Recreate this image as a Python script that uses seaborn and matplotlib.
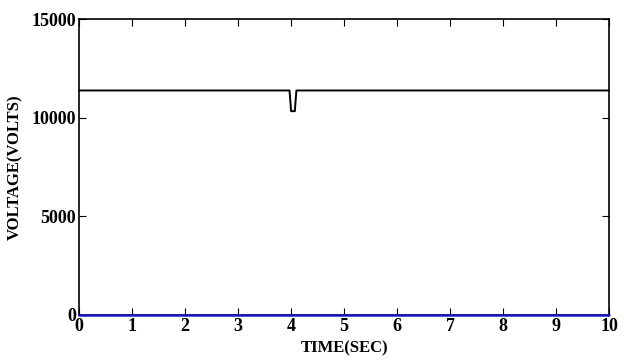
import numpy as np
import seaborn as sns
import matplotlib.pyplot as plt

# --- data ---
time_sec = [0.0, 3.97, 4.00, 4.07, 4.10, 10.0]
voltage = [11380, 11380, 10330, 10330, 11380, 11380]
time_zero = [0.0, 10.0]
voltage_zero = [0, 0]

x_ticks = list(range(0, 11))
y_ticks = [0, 5000, 10000, 15000]

sns.set_style("ticks")
plt.rcParams['font.family'] = ['Liberation Serif', 'DejaVu Serif']
plt.rcParams['font.weight'] = 'bold'

fig = plt.figure(figsize=(6.32, 3.61), dpi=100)
ax = fig.add_axes([0.125, 0.128, 0.839, 0.819])

sns.lineplot(x=time_sec, y=voltage, ax=ax, color='black', lw=1.4)
sns.lineplot(x=time_zero, y=voltage_zero, ax=ax, color='#1a1ac0', lw=1.8)
ax.lines[-1].set_clip_on(False)
ax.lines[-1].set_zorder(5)

ax.set_xlim(0, 10)
ax.set_ylim(0, 15000)
ax.set_xticks(x_ticks)
ax.set_yticks(y_ticks)
ax.tick_params(direction='in', length=5, width=0.8, top=True, right=True,
               labelsize=13, pad=2, colors='black')
for lbl in ax.get_xticklabels() + ax.get_yticklabels():
    lbl.set_fontweight('bold')
for s in ax.spines.values():
    s.set_linewidth(1.2)
    s.set_color('black')

ax.set_xlabel('TIME(SEC)', fontsize=12, fontweight='bold', labelpad=4, color='black')
ax.set_ylabel('VOLTAGE(VOLTS)', fontsize=12, fontweight='bold', labelpad=6, color='black')

fig.savefig('out.png', dpi=100)
